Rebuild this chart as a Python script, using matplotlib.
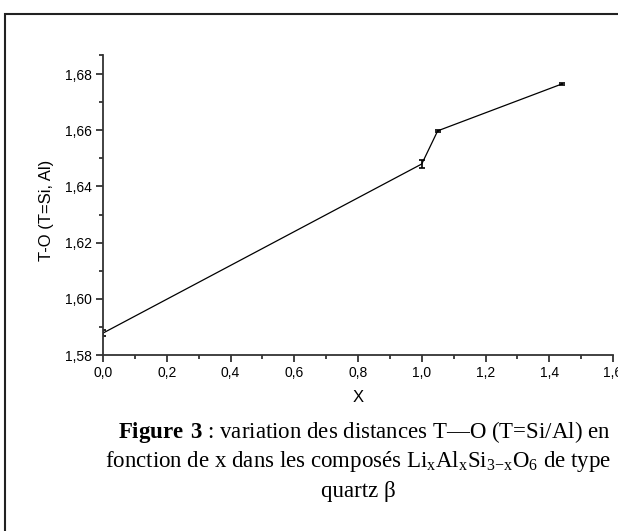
import numpy as np
import matplotlib
matplotlib.use("Agg")
import matplotlib.pyplot as plt
from matplotlib.patches import Rectangle
from matplotlib.ticker import FixedLocator, FuncFormatter

# data
x = [0.0, 1.0, 1.05, 1.44]
t_o = [1.5878, 1.6480, 1.6598, 1.6765]
t_o_err = [0.0011, 0.0014, 0.0004, 0.0004]

plt.rcParams['font.family'] = ['Liberation Sans', 'DejaVu Sans']
plt.rcParams['mathtext.fontset'] = 'custom'
plt.rcParams['mathtext.rm'] = 'Liberation Serif'
plt.rcParams['mathtext.bf'] = 'Liberation Serif:bold'

fig = plt.figure(figsize=(6.18, 5.31), dpi=100)
ax = fig.add_axes([103/618, 1 - 355/531, 510/618, 300/531])

ax.errorbar(x, t_o, yerr=t_o_err, color='black', lw=0.9,
            elinewidth=1.2, capsize=2.5, capthick=1.2)

ax.set_xlim(0, 1.6)
ax.set_ylim(1.58, 1.6868)

for side in ('top', 'right'):
    ax.spines[side].set_visible(False)
for side in ('left', 'bottom'):
    ax.spines[side].set_color('#333333')
    ax.spines[side].set_linewidth(1.3)

ax.xaxis.set_major_locator(FixedLocator(np.arange(0, 1.61, 0.2)))
ax.xaxis.set_minor_locator(FixedLocator(np.arange(0.1, 1.6, 0.2)))
ax.yaxis.set_major_locator(FixedLocator(np.arange(1.58, 1.681, 0.02)))
ax.yaxis.set_minor_locator(FixedLocator(list(np.arange(1.59, 1.68, 0.02)) + [1.6868]))

ax.xaxis.set_major_formatter(FuncFormatter(lambda v, p: f"{v:.1f}".replace('.', ',')))
ax.yaxis.set_major_formatter(FuncFormatter(lambda v, p: f"{v:.2f}".replace('.', ',')))

ax.tick_params(which='major', direction='out', length=5, width=1.3,
               color='#333333', labelsize=10, pad=3)
ax.tick_params(which='minor', direction='out', length=3, width=1.3,
               color='#333333')

fig.text(358/618, 1 - 398/531, "X", ha='center', va='center', fontsize=12)
fig.text(46/618, 1 - 210/531, "T-O (T=Si, Al)", ha='center', va='center',
         rotation=90, fontsize=12)

# outer frame, cut by the image on the right and bottom
fig.add_artist(Rectangle((5/618, -0.1), 1.2, 1.1 - 14/531,
                         transform=fig.transFigure, fill=False,
                         lw=1.5, edgecolor='#222222', clip_on=False))

serif = ['Liberation Serif', 'DejaVu Serif']
fig.text(364/618, 1 - 432/531, r"$\mathbf{Figure\ 3}$ : variation des distances T—O (T=Si/Al) en",
         ha='center', va='center', fontsize=16.5, family=serif)
fig.text(358/618, 1 - 462/531,
         r"fonction de x dans les composés Li$_\mathrm{x}$Al$_\mathrm{x}$Si$_\mathrm{3{-}x}$O$_\mathrm{6}$ de type",
         ha='center', va='center', fontsize=16.5, family=serif)
fig.text(358/618, 1 - 492/531, "quartz β", ha='center', va='center', fontsize=16.5, family=serif)

fig.savefig("out.png", dpi=100)
